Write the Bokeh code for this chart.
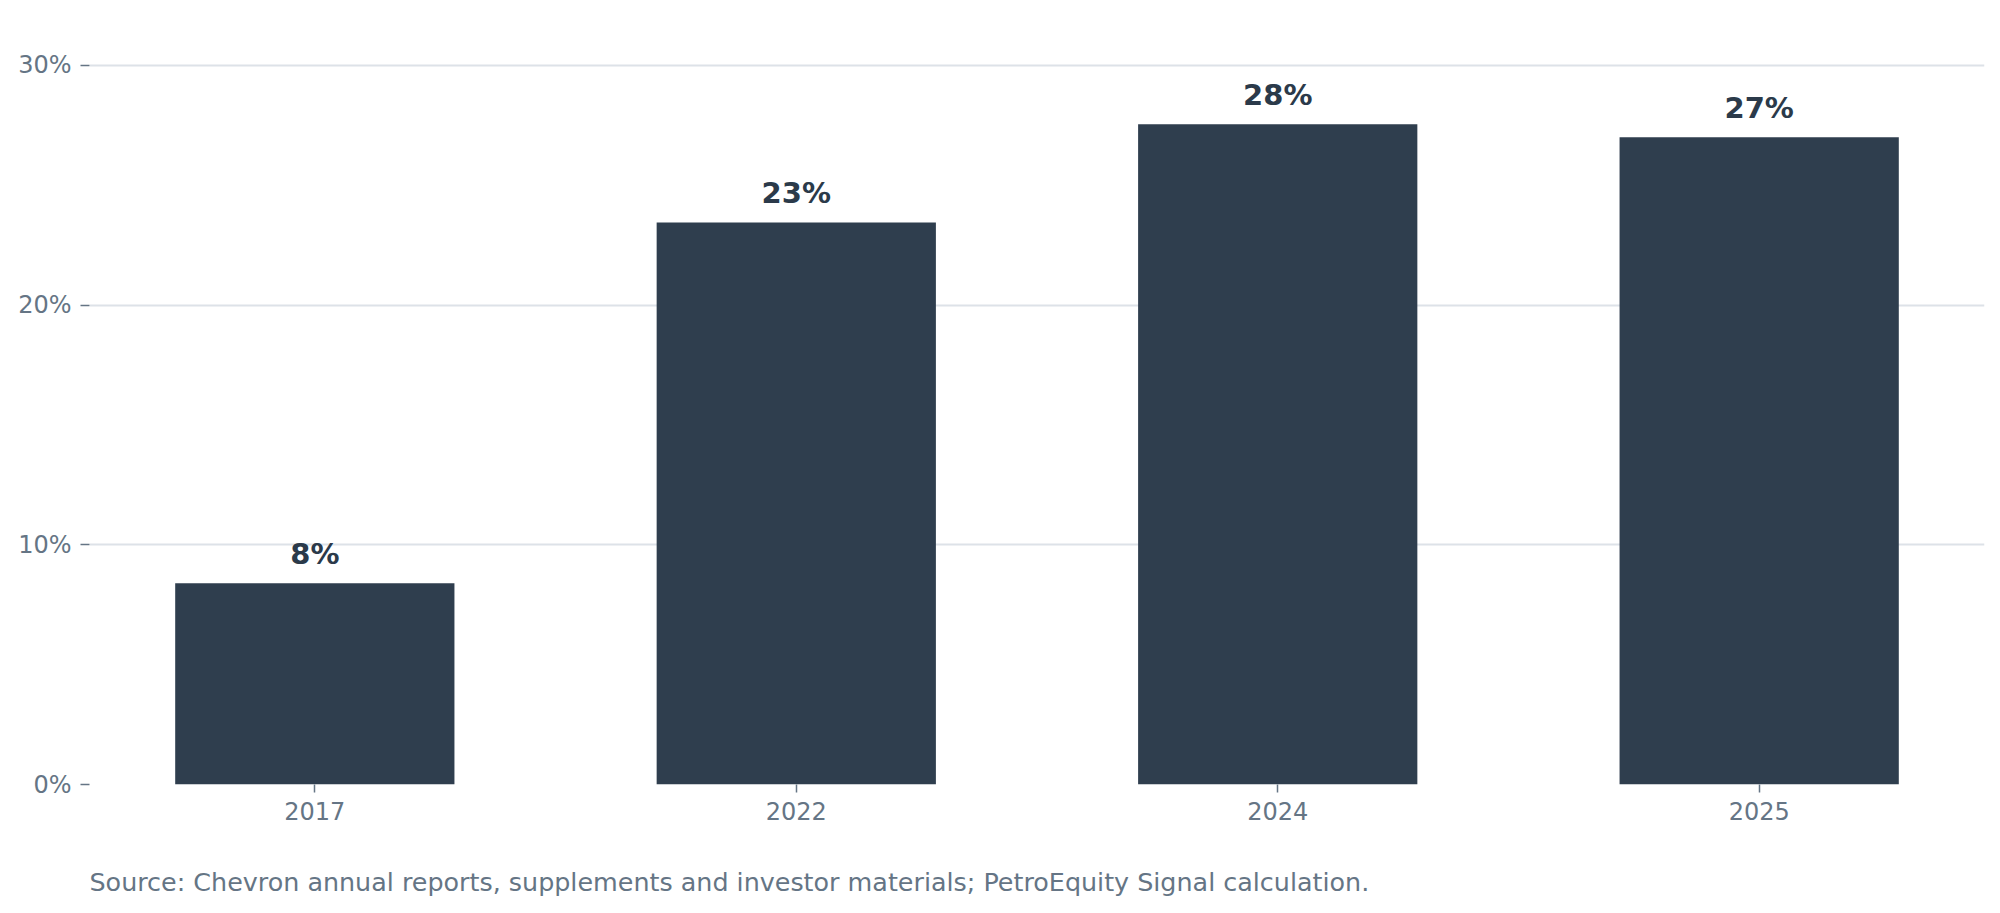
from bokeh.plotting import figure
from bokeh.models import Range1d, FixedTicker, Title, ColumnDataSource
from bokeh.core.properties import value
from bokeh.embed import file_html
from bokeh.resources import INLINE

# ---- data ----
years = ["2017", "2022", "2024", "2025"]
shares = [8.4, 23.45, 27.55, 27.0]
bar_labels = [f"{v:.0f}%" for v in shares]
y_ticks = [0, 10, 20, 30]
y_tick_labels = ["0%", "10%", "20%", "30%"]
source_note = "Source: Chevron annual reports, supplements and investor materials; PetroEquity Signal calculation."

BAR = "#2f3e4e"
LABEL = "#2b3a4a"
GREY = "#657585"
GRID = "#dde2e8"
FONT = "DejaVu Sans"

xs = list(range(len(years)))
src = ColumnDataSource(dict(x=xs, y=shares, lab=bar_labels))

p = figure(frame_width=1895, frame_height=755, output_backend="svg", toolbar_location=None,
           x_range=Range1d(-0.468, 3.468), y_range=Range1d(0, 31.5),
           min_border_left=89, min_border_right=8, min_border_top=29, min_border_bottom=110)
p.outline_line_color = None
p.background_fill_color = "white"

p.vbar(x="x", top="y", width=0.58, bottom=0, source=src, fill_color=BAR, line_color=None)
p.text(x="x", y="y", text="lab", source=src, text_align="center", text_baseline="alphabetic",
       y_offset=-29, text_font=value(FONT), text_font_style="bold", text_font_size="29px",
       text_color=LABEL)

# axes
p.xaxis.ticker = FixedTicker(ticks=xs)
p.xaxis.major_label_overrides = {i: y for i, y in enumerate(years)}
p.yaxis.ticker = FixedTicker(ticks=y_ticks)
p.yaxis.major_label_overrides = {t: l for t, l in zip(y_ticks, y_tick_labels)}
for ax in (p.xaxis, p.yaxis):
    ax.axis_line_color = None
    ax.minor_tick_line_color = None
    ax.major_tick_in = 0
    ax.major_tick_line_color = GREY
    ax.major_tick_line_width = 1.5
    ax.major_label_text_color = GREY
    ax.major_label_text_font = FONT
    ax.major_label_text_font_size = "24px"
p.yaxis.major_tick_out = 9
p.yaxis.major_label_standoff = 9
p.xaxis.major_tick_out = 8
p.xaxis.major_label_standoff = 9

p.xgrid.grid_line_color = None
p.ygrid.grid_line_color = GRID
p.ygrid.grid_line_width = 2

t = Title(text=source_note, align="left", text_font=FONT, text_font_size="25.4px",
          text_font_style="normal", text_color=GREY, standoff=84)
p.add_layout(t, "below")

open("out.html", "w").write(file_html(p, INLINE))
